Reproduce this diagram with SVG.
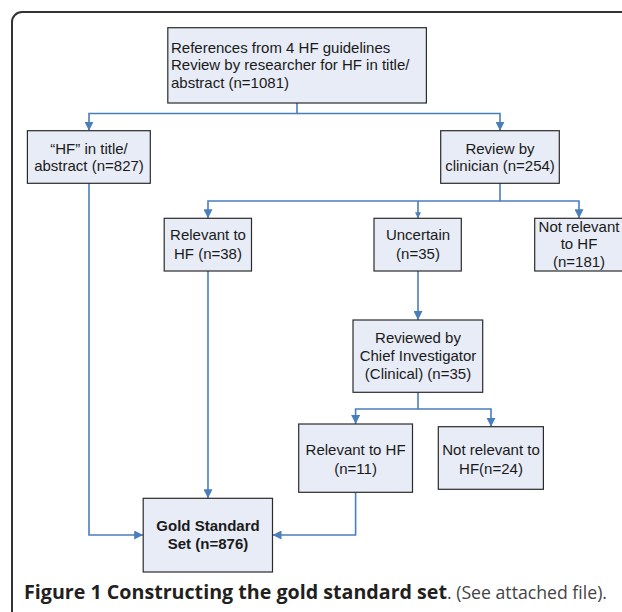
<svg xmlns="http://www.w3.org/2000/svg" width="622" height="612" viewBox="0 0 622 612">
<style>
.box{fill:#e7ecf6;stroke:#2b2b2b;stroke-width:1.2}
.t{font-family:"Liberation Sans",Arial,sans-serif;font-size:15px;fill:#1a1a1a;text-anchor:middle}
.tl{text-anchor:start}
.b{font-weight:bold}
.c{fill:none;stroke:#4a7ebb;stroke-width:1.6}
.cap{font-family:"Open Sans","Noto Sans",sans-serif;font-size:19px}
</style>
<defs>
<marker id="ah" viewBox="0 0 10 10" refX="10" refY="5" markerWidth="9" markerHeight="9" markerUnits="userSpaceOnUse" orient="auto"><path d="M0,0 L10,5 L0,10 z" fill="#4a7ebb"/></marker>
<marker id="ahs" viewBox="0 0 10 10" refX="10" refY="5" markerWidth="6" markerHeight="6" markerUnits="userSpaceOnUse" orient="auto"><path d="M0,0 L10,5 L0,10 z" fill="#4a7ebb"/></marker>
</defs>
<path d="M12,613 V22 A10,10 0 0 1 22,12 H625" fill="none" stroke="#333" stroke-width="2"/>
<g id="connectors">
<path class="c" d="M297,103 V113.5 H89 V130.7" marker-end="url(#ah)"/>
<path class="c" d="M297,113.5 H500 V130.7" marker-end="url(#ah)"/>
<path class="c" d="M89,183.3 V535 H143.2" marker-end="url(#ah)"/>
<path class="c" d="M500,183.3 V201 H208 V218.3" marker-end="url(#ah)"/>
<path class="c" d="M500,201 H579 V218.3" marker-end="url(#ah)"/>
<path class="c" d="M418,201 V218.3" marker-end="url(#ahs)"/>
<path class="c" d="M208,271 V498.3" marker-end="url(#ah)"/>
<path class="c" d="M418,271 V320" marker-end="url(#ah)"/>
<path class="c" d="M418,392.3 V409 H355.6 V424" marker-end="url(#ah)"/>
<path class="c" d="M418,409 H491 V426.7" marker-end="url(#ah)"/>
<path class="c" d="M355.6,492.3 V535 H272.5" marker-end="url(#ah)"/>
</g>
<g id="n-top">
<rect class="box" x="167.8" y="27.7" width="258.6" height="75.3"/>
<text class="t tl" x="171" y="52.6">References from 4 HF guidelines</text>
<text class="t tl" x="171" y="70.3">Review by researcher for HF in title/</text>
<text class="t tl" x="171" y="88">abstract (n=1081)</text>
</g>
<g id="n-hf">
<rect class="box" x="27.4" y="130.7" width="122.9" height="52.6"/>
<text class="t" x="89" y="153.6">“HF” in title/</text>
<text class="t" x="89" y="171.3">abstract (n=827)</text>
</g>
<g id="n-review">
<rect class="box" x="440.7" y="130.7" width="118.6" height="52.6"/>
<text class="t" x="500" y="153.6">Review by</text>
<text class="t" x="500" y="171.3">clinician (n=254)</text>
</g>
<g id="n-rel38">
<rect class="box" x="164.2" y="218.3" width="87.3" height="52.7"/>
<text class="t" x="208" y="240.3">Relevant to</text>
<text class="t" x="208" y="258.6">HF (n=38)</text>
</g>
<g id="n-uncertain">
<rect class="box" x="374" y="218.3" width="87.3" height="52.7"/>
<text class="t" x="418" y="240.3">Uncertain</text>
<text class="t" x="418" y="258.6">(n=35)</text>
</g>
<g id="n-notrel181">
<rect class="box" x="534.7" y="218.3" width="89" height="52.7"/>
<text class="t" x="579" y="232">Not relevant</text>
<text class="t" x="579" y="249.3">to HF</text>
<text class="t" x="579" y="267">(n=181)</text>
</g>
<g id="n-chief">
<rect class="box" x="353" y="320" width="129.7" height="72.3"/>
<text class="t" x="418" y="343">Reviewed by</text>
<text class="t" x="418" y="361">Chief Investigator</text>
<text class="t" x="418" y="378.6">(Clinical) (n=35)</text>
</g>
<g id="n-rel11">
<rect class="box" x="298.7" y="424" width="113.8" height="68.3"/>
<text class="t" x="355.6" y="454.6">Relevant to HF</text>
<text class="t" x="355.6" y="474">(n=11)</text>
</g>
<g id="n-notrel24">
<rect class="box" x="438.3" y="426.7" width="105.1" height="62.6"/>
<text class="t" x="491" y="454.6">Not relevant to</text>
<text class="t" x="491" y="474">HF(n=24)</text>
</g>
<g id="n-gold">
<rect class="box" x="143.2" y="498.3" width="129.3" height="73.7"/>
<text class="t b" x="208" y="531">Gold Standard</text>
<text class="t b" x="208" y="548.6">Set (n=876)</text>
</g>
<text class="cap" x="24" y="598.5" font-weight="bold" fill="#231f20" textLength="423" lengthAdjust="spacingAndGlyphs">Figure 1 Constructing the gold standard set</text>
<text class="cap" x="447" y="598.5" fill="#444" textLength="160" lengthAdjust="spacingAndGlyphs">. (See attached file).</text>
</svg>
